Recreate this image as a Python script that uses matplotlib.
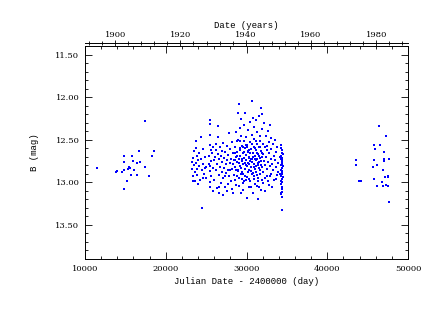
import numpy as np
import matplotlib.pyplot as plt
from matplotlib.ticker import MultipleLocator, FixedLocator, FormatStrFormatter

# early photographic points (JD - 2400000, B mag)
early_jd = [11520, 13800, 13920, 14540, 14830, 14830, 14830, 14870, 15240, 15290,
            15450, 15570, 15700, 15780, 15940, 16030, 16400, 16480, 16730, 16770,
            17430, 17470, 17890, 18300, 18580]
early_mag = [12.83, 12.88, 12.87, 12.88, 12.69, 12.76, 13.08, 12.86, 12.99, 12.84,
             12.82, 12.83, 12.91, 12.69, 12.75, 12.86, 12.77, 12.91, 12.63, 12.76,
             12.28, 12.82, 12.93, 12.69, 12.63]

# main campaign 1922-1953
main_jd = [
    23250, 23310, 23380, 23420, 23460, 23530, 23580, 23610, 23690, 23740,
    23820, 23860, 23930, 24020, 24090, 24150, 24230, 24310, 24380, 24440,
    24470, 24560, 24640, 24720, 24810, 24900, 24970,
    25430, 25470, 25520, 25490, 25560, 25410, 25580, 25450, 25530, 25610,
    25470, 25540, 25380,
    25720, 25790, 25860, 25950, 26030, 26090, 26180, 26240, 26310, 26390,
    26460, 26470, 26520, 26560, 26590, 26630, 26700, 26760, 26790, 26850,
    26920, 26980, 27040, 27090, 27150, 27190, 27260, 27300, 27370, 27420,
    27480, 27550, 27590, 27640, 27700, 27760, 27830, 27860, 27910, 27980,
    28040, 28090, 28150, 28210, 28260, 28320, 28380, 28430, 28490,
    28540, 28600, 28650, 28690, 28740, 28790, 28850, 28900, 28960, 28990,
    29020, 29060, 29110, 29140, 29170, 29210, 29250, 29290, 29330, 29360,
    29400, 29440, 29480, 29520, 29560, 29600, 29640, 29680, 29720, 29760,
    29800, 29840, 29870, 29910, 29950, 29990, 30030, 30070, 30110, 30150,
    30190, 30230, 30270, 30310, 30350, 30390, 30430, 30470, 30510, 30550,
    30590, 30630, 30670, 30720, 30750, 30790, 30830, 30870, 30910, 30950,
    30990, 31030, 31070, 31110, 31150, 31190, 31230, 31270, 31310, 31350,
    31390, 31430, 31470, 31510, 31550, 31590, 31630, 31670, 31710, 31750,
    31790, 31830, 31870, 31910, 31950, 31990,
    28580, 28710, 28880, 29080, 29230, 29380, 29500, 29620, 29740, 29880,
    30010, 30130, 30250, 30370, 30490, 30610, 30740, 30860, 30980, 31090,
    31210, 31330, 31450, 31570, 31690, 31810, 31930,
    28620, 28820, 29000, 29190, 29420, 29580, 29780, 29970, 30170, 30330,
    30570, 30700, 30890, 31010, 31170, 31290, 31410, 31530, 31650, 31770,
    31890,
    32030, 32080, 32140, 32190, 32240, 32290, 32340, 32390, 32440, 32490,
    32540, 32590, 32640, 32690, 32740, 32790, 32840, 32890, 32940, 32990,
    33040, 33090, 33150, 33220, 33290, 33350, 33420, 33480, 33550, 33610,
    33680, 33740, 33800, 33860,
    34300, 34420, 34350, 34460, 34320, 34400, 34280, 34450, 34360, 34430,
    34310, 34470, 34380, 34290, 34440, 34350, 34410, 34300, 34460, 34370,
    34330, 34420, 34290, 34390, 34450, 34340, 34300, 34410, 34360, 34200,
    34180, 34230, 34260,
    23350, 23700, 24000, 24600, 25000, 25900, 26250, 26650, 27000, 27350,
    27700, 28000, 28300, 28550, 28780, 29050, 29300, 29540, 29700, 29930,
    30080, 30280, 30450, 30650, 30800, 30940, 31120, 31250, 31380, 31600,
    31720, 31860, 32100, 32350, 32620, 32880, 33200, 33650, 33900, 32500,
    33000,
]
main_mag = [
    12.76, 12.84, 12.71, 12.93, 12.80, 12.63, 12.88, 12.99, 12.77, 12.52,
    12.69, 12.84, 12.91, 12.74, 12.81, 12.66, 12.97, 12.47, 12.72, 12.86,
    13.30, 12.78, 12.61, 12.90, 12.83, 12.70, 12.95,
    12.27, 12.31, 12.44, 12.56, 12.62, 12.69, 12.75, 12.81, 12.87, 12.93,
    13.00, 13.05, 12.78,
    12.66, 12.83, 12.58, 12.74, 12.97, 12.70, 12.62, 12.86, 13.07, 12.79,
    12.34, 12.47, 12.67, 12.91, 13.12, 12.73, 12.59, 12.82, 13.01, 12.69,
    12.88, 12.76, 13.15, 12.54, 12.95, 12.71, 12.83, 12.64, 13.05, 12.78,
    12.89, 12.57, 12.74, 13.10, 12.68, 12.85, 12.42, 12.93, 12.77, 12.61,
    12.99, 12.72, 12.84, 12.53, 13.08, 12.79, 12.66, 12.91, 12.74,
    12.58, 12.82, 12.41, 12.70, 13.03, 12.76, 12.64, 12.87, 12.19, 12.50,
    12.73, 12.95, 12.08, 12.36, 12.62, 12.81, 12.69, 13.13, 12.26, 12.45,
    12.57, 12.75, 12.88, 12.66, 12.79, 13.01, 12.33, 12.52, 12.71, 12.84,
    12.60, 12.19, 12.92, 12.74, 12.47, 12.68, 12.81, 13.18, 12.56, 12.39,
    12.77, 12.63, 12.86, 12.70, 12.96, 12.29, 12.53, 12.75, 12.82, 12.61,
    13.06, 12.44, 12.72, 12.04, 12.24, 12.66, 12.89, 12.58, 12.35, 12.78,
    12.49, 12.69, 12.84, 13.02, 12.62, 12.27, 12.74, 12.55, 12.91, 12.41,
    12.80, 12.67, 13.20, 12.22, 12.58, 12.76, 12.86, 12.46, 12.71, 13.09,
    12.63, 12.13, 12.37, 12.82, 12.20, 12.55,
    12.74, 12.85, 12.69, 12.77, 12.60, 12.83, 12.72, 12.90, 12.64, 12.80,
    12.58, 12.88, 12.71, 12.79, 12.65, 12.87, 12.76, 12.70, 12.93, 12.73,
    12.81, 12.66, 12.77, 12.69, 12.90, 12.75, 12.65,
    12.66, 12.93, 12.85, 12.52, 12.96, 12.59, 12.77, 12.97, 12.64, 12.62,
    12.72, 12.90, 12.82, 12.60, 12.88, 12.72, 12.95, 12.83, 12.59, 12.80,
    12.70,
    12.67, 12.88, 12.30, 12.75, 12.59, 13.10, 12.80, 12.45, 12.70, 12.93,
    12.62, 12.84, 12.40, 12.76, 13.03, 12.66, 12.53, 12.81, 12.33, 12.72,
    12.90, 12.61, 12.78, 12.55, 12.86, 12.69, 12.97, 12.74, 12.50, 12.82,
    12.64, 12.91, 12.58, 12.77,
    12.60, 12.62, 12.65, 12.67, 12.69, 12.71, 12.73, 12.74, 12.76, 12.78,
    12.80, 12.81, 12.83, 12.85, 12.87, 12.88, 12.90, 12.92, 12.94, 12.96,
    12.98, 13.00, 13.02, 13.05, 13.08, 13.11, 13.14, 13.17, 13.32, 12.70,
    12.90, 12.56, 13.13,
    12.98, 12.60, 13.02, 12.95, 12.82, 13.10, 12.55, 13.05, 12.63, 12.92,
    13.02, 12.86, 13.12, 12.97, 12.52, 13.04, 12.90, 13.09, 12.99, 12.56,
    12.94, 13.05, 12.98, 12.55, 13.12, 12.96, 12.52, 13.04, 12.98, 13.06,
    12.52, 12.97, 13.01, 12.95, 12.99, 12.92, 13.05, 12.96, 12.88, 12.57,
    12.48,
]

# late points 1978-1989
late_jd = [43600, 43600, 43890, 44140, 46450, 47240, 45750, 46530, 45950, 46990,
           47680, 45790, 46990, 46990, 46160, 45700, 46850, 47470, 47550, 47150,
           45790, 46780, 46200, 46950, 47240, 47520, 47600]
late_mag = [12.74, 12.80, 12.98, 12.99, 12.34, 12.45, 12.56, 12.56, 12.61, 12.64,
            12.72, 12.74, 12.73, 12.75, 12.80, 12.82, 12.85, 12.93, 12.94, 12.94,
            12.96, 13.00, 13.04, 13.04, 13.03, 13.04, 13.23]

year_ticks = [1900, 1920, 1940, 1960, 1980]


def jd_to_year(jd):
    return 1940 + (np.asarray(jd) - 29901) / 404.3


def year_to_jd(yr):
    return 29901 + (np.asarray(yr) - 1940) * 404.3


all_jd = np.array(early_jd + main_jd + late_jd)
all_mag = np.array(early_mag + main_mag + late_mag)

tick_font = 'DejaVu Serif'
label_font = 'Liberation Mono'

fig = plt.figure(figsize=(4.23, 3.27), dpi=100)
ax = fig.add_axes([0.201, 0.208, 0.7635, 0.651])
ax.scatter(all_jd, all_mag, s=2.4, marker='s', color='#0000ff', linewidths=0)

ax.set_xlim(10000, 50000)
ax.set_ylim(13.9, 11.4)
ax.xaxis.set_major_locator(MultipleLocator(10000))
ax.xaxis.set_minor_locator(MultipleLocator(2000))
ax.yaxis.set_major_locator(MultipleLocator(0.5))
ax.yaxis.set_minor_locator(MultipleLocator(0.1))
ax.yaxis.set_major_formatter(FormatStrFormatter('%.2f'))
ax.tick_params(which='both', direction='in', top=True, right=True, width=0.6,
               labelsize=6, pad=4)
ax.tick_params(which='major', length=5)
ax.tick_params(which='minor', length=2.5)
for lab in ax.get_xticklabels() + ax.get_yticklabels():
    lab.set_family(tick_font)
for sp in ax.spines.values():
    sp.set_linewidth(0.7)

ax.set_xlabel('Julian Date - 2400000 (day)', fontsize=6.5, family=label_font, labelpad=3)
ax.set_ylabel('B (mag)', fontsize=6.5, family=label_font, labelpad=12)

sec = ax.secondary_xaxis(1.014, functions=(jd_to_year, year_to_jd))
sec.xaxis.set_major_locator(FixedLocator(year_ticks))
sec.xaxis.set_minor_locator(MultipleLocator(4))
sec.tick_params(which='both', direction='inout', width=0.6, labelsize=6, pad=0.5)
sec.tick_params(which='major', length=5)
sec.tick_params(which='minor', length=3.5)
sec.spines['top'].set_linewidth(0.7)
for lab in sec.get_xticklabels():
    lab.set_family(tick_font)
sec.set_xlabel('Date (years)', fontsize=6.5, family=label_font, labelpad=2)

fig.savefig('out.png', dpi=100)
